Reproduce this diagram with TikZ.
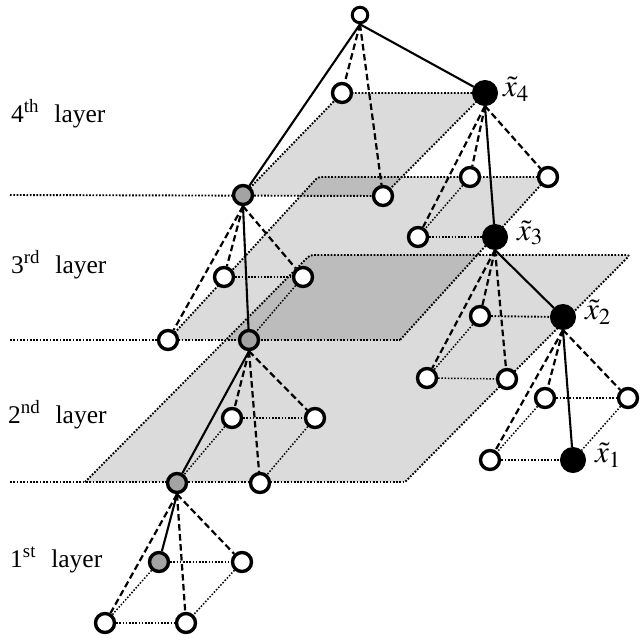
\documentclass[tikz,border=0pt]{standalone}
\usepackage{mathptmx}
\usepackage{fontspec}
\setmainfont{Liberation Serif}
\pgfdeclarelayer{bg}
\pgfsetlayers{bg,main}
\tikzset{
  wnode/.style={circle, draw=black, fill=white, line width=3.4pt, minimum size=19pt, inner sep=0pt},
  tnode/.style={wnode, minimum size=15.5pt, line width=3pt},
  gnode/.style={wnode, fill=black!36},
  bnode/.style={circle, draw=black, fill=black, line width=1pt, minimum size=25pt, inner sep=0pt},
  solidline/.style={line width=2.1pt},
  dashline/.style={line width=2.2pt, dash pattern=on 6.5pt off 3.5pt},
  dotline/.style={line width=1.9pt, dash pattern=on 1.7pt off 1.6pt},
  sqline/.style={line width=1.5pt, dash pattern=on 1.5pt off 1.7pt},
  plane/.style={fill=black, fill opacity=0.14, rounded corners=3pt},
  lab/.style={font=\fontsize{25.5}{29}\selectfont, anchor=base west, inner sep=0pt},
  xlab/.style={anchor=west, inner sep=0pt},
}
\newcommand{\xt}[1]{{\fontsize{31}{36}\selectfont$\tilde{x}_{#1}$}}
\begin{document}
\begin{tikzpicture}[x=1pt, y=-1pt]
\useasboundingbox (0,0) rectangle (641,641);
% ---- nodes ----
\node[tnode] (T) at (360,15) {};
% layer 4
\node[wnode] (W4a) at (342,93) {};
\node[bnode] (B4) at (485,93) {};
\node[gnode] (G4) at (243,195) {};
\node[wnode] (W4b) at (383,196) {};
% layer 3
\node[wnode] (W3a) at (224,277) {};
\node[wnode] (W3b) at (303,277) {};
\node[wnode] (W3c) at (168,340) {};
\node[gnode] (G3) at (249,340) {};
\node[wnode] (W3d) at (470,177) {};
\node[wnode] (W3e) at (548,177) {};
\node[wnode] (W3f) at (418,237) {};
\node[bnode] (B3) at (495,237) {};
% layer 2
\node[wnode] (W2a) at (232,418) {};
\node[wnode] (W2b) at (315,418) {};
\node[gnode] (G2) at (177,483) {};
\node[wnode] (W2c) at (260,483) {};
\node[wnode] (W2d) at (480,316) {};
\node[bnode] (B2) at (563,317) {};
\node[wnode] (W2e) at (427,378) {};
\node[wnode] (W2f) at (507,379) {};
% layer 1
\node[gnode] (G1) at (159,562) {};
\node[wnode] (W1a) at (242,562) {};
\node[wnode] (W1b) at (105,623) {};
\node[wnode] (W1c) at (186,623) {};
\node[wnode] (W1d) at (545,398) {};
\node[wnode] (W1e) at (628,398) {};
\node[wnode] (W1f) at (490,460) {};
\node[bnode] (B1) at (573,460) {};
% plane corners and separator ends
\coordinate (p3tl) at (318,177);
\coordinate (p3br) at (400,340);
\coordinate (p2tl) at (310,255);
\coordinate (p2tr) at (630,255);
\coordinate (p2br) at (405,482);
\coordinate (p2bl) at (85,482);
\coordinate (s4) at (10,195);
\coordinate (s3) at (10,340);
\coordinate (s2) at (10,482);
% ---- planes (background) ----
\begin{pgfonlayer}{bg}
\fill[plane] (W4a.center) -- (B4.center) -- (W4b.center) -- (G4.center) -- cycle;
\fill[plane] (p3tl) -- (W3e.center) -- (p3br) -- (W3c.center) -- cycle;
\fill[plane] (p2tl) -- (p2tr) -- (p2br) -- (p2bl) -- cycle;
\draw[dotline] (s4) -- (W4b.center);
\draw[dotline] (s3) -- (p3br);
\draw[dotline] (s2) -- (p2br);
\draw[dotline] (G4.center) -- (W4a.center) -- (B4.center) -- (W4b.center);
\draw[dotline, rounded corners=3pt] (W3c.center) -- (p3tl) -- (W3e.center) -- (p3br);
\draw[dotline, rounded corners=3pt] (p2bl) -- (p2tl) -- (p2tr) -- (p2br);
\end{pgfonlayer}
% ---- square edges ----
\draw[sqline] (W3a) -- (W3b);
\draw[sqline] (W3b) -- (G3);
\draw[sqline] (W3d) -- (W3f);
\draw[sqline] (W3f) -- (B3);
\draw[sqline] (W2a) -- (W2b);
\draw[sqline] (W2a) -- (G2);
\draw[sqline] (W2b) -- (W2c);
\draw[dotline] (W2d) -- (B2);
\draw[sqline] (W2d) -- (W2e);
\draw[sqline] (W2e) -- (W2f);
\draw[sqline] (G1) -- (W1a);
\draw[sqline] (G1) -- (W1b);
\draw[sqline] (W1a) -- (W1c);
\draw[sqline] (W1b) -- (W1c);
\draw[dotline] (W1d) -- (W1e);
\draw[sqline] (W1d) -- (W1f);
\draw[sqline] (W1e) -- (B1);
\draw[dotline] (W1f) -- (B1);
% ---- tree connectors ----
\draw[solidline] (T.south) -- (G4);
\draw[solidline] (T.south) -- (B4);
\draw[dashline] (T.south) -- (W4a);
\draw[dashline] (T.south) -- (W4b);
\draw[solidline] (G4.south) -- (G3);
\draw[dashline] (G4.south) -- (W3a);
\draw[dashline] (G4.south) -- (W3b);
\draw[dashline] (G4.south) -- (W3c);
\draw[solidline] (B4.south) -- (B3);
\draw[dashline] (B4.south) -- (W3d);
\draw[dashline] (B4.south) -- (W3e);
\draw[dashline] (B4.south) -- (W3f);
\draw[solidline] (G3.south) -- (G2);
\draw[dashline] (G3.south) -- (W2a);
\draw[dashline] (G3.south) -- (W2b);
\draw[dashline] (G3.south) -- (W2c);
\draw[solidline] (B3.south) -- (B2);
\draw[dashline] (B3.south) -- (W2d);
\draw[dashline] (B3.south) -- (W2e);
\draw[dashline] (B3.south) -- (W2f);
\draw[solidline] (G2.south) -- (G1);
\draw[dashline] (G2.south) -- (W1a);
\draw[dashline] (G2.south) -- (W1b);
\draw[dashline] (G2.south) -- (W1c);
\draw[solidline] (B2.south) -- (B1);
\draw[dashline] (B2.south) -- (W1d);
\draw[dashline] (B2.south) -- (W1e);
\draw[dashline] (B2.south) -- (W1f);
% ---- labels ----
\node[xlab] (L4) at ([xshift=5pt,yshift=4pt]B4.east) {\xt{4}};
\node[xlab] (L3) at ([xshift=9pt,yshift=4pt]B3.east) {\xt{3}};
\node[xlab] (L2) at ([xshift=9pt,yshift=5pt]B2.east) {\xt{2}};
\node[xlab] (L1) at ([xshift=9pt,yshift=5pt]B1.east) {\xt{1}};
\node[lab] (T4) at (11,122) {4\textsuperscript{th}\hspace{0.6em}layer};
\node[lab] (T3) at (11,273) {3\textsuperscript{rd}\hspace{0.6em}layer};
\node[lab] (T2) at (8,423) {2\textsuperscript{nd}\hspace{0.6em}layer};
\node[lab] (T1) at (10,567) {1\textsuperscript{st}\hspace{0.6em}layer};
\end{tikzpicture}
\end{document}
